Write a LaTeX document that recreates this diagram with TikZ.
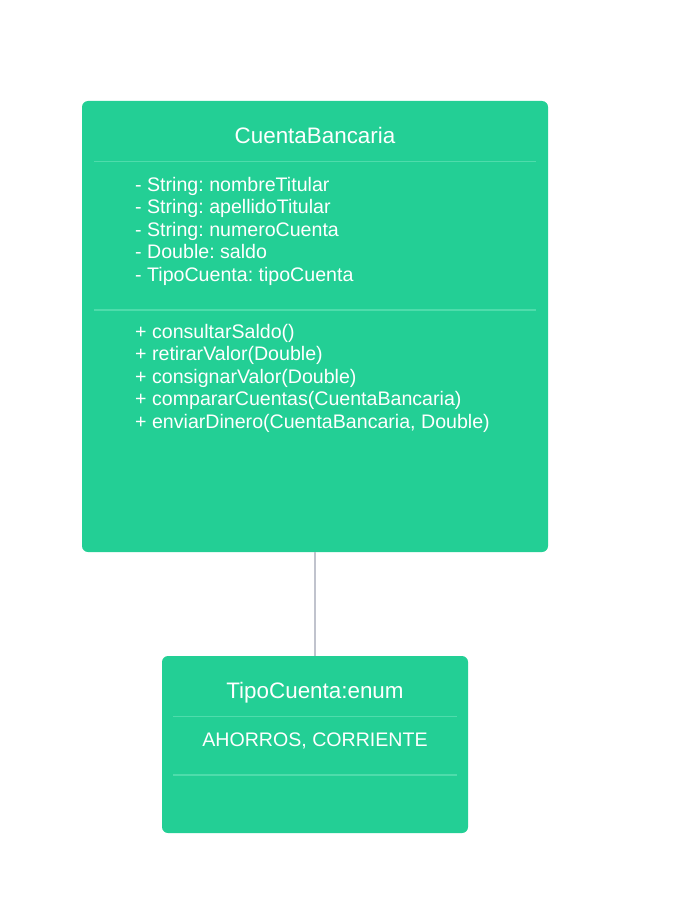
\documentclass[tikz,border=0pt]{standalone}
\usepackage{fontspec}
\setmainfont{Liberation Sans}
\frenchspacing
\definecolor{boxgreen}{RGB}{35,207,149}
\definecolor{divgreen}{RGB}{78,220,171}
\definecolor{linkgray}{RGB}{192,195,205}
\tikzset{
  classbox/.style={fill=boxgreen, draw=none, rounded corners=6pt, inner sep=0pt},
  divider/.style={draw=divgreen, line width=1.2pt},
  titletext/.style={text=white, font=\fontsize{22.4}{26}\selectfont, inner sep=0pt, anchor=base},
  bodytext/.style={text=white, font=\fontsize{19.6}{22.5}\selectfont, inner sep=0pt, anchor=base west},
  centertext/.style={text=white, font=\fontsize{19.6}{22.5}\selectfont, inner sep=0pt, anchor=base},
  link/.style={draw=linkgray, line width=2.5pt}
}
\begin{document}
\begin{tikzpicture}[x=1pt,y=-1pt]
\useasboundingbox (0,0) rectangle (678,915);
% main class
\node[classbox, minimum width=466pt, minimum height=451pt] (cb) at (315,326.5) {};
\node[titletext] (cbt) at (315,143) {CuentaBancaria};
\coordinate (d1l) at (94,161.5); \coordinate (d1r) at (536,161.5);
\draw[divider] (d1l) -- (d1r);
\node[bodytext] (a1) at (135,191) {- String: nombreTitular};
\node[bodytext] (a2) at (135,213.5) {- String: apellidoTitular};
\node[bodytext] (a3) at (135,236) {- String: numeroCuenta};
\node[bodytext] (a4) at (135,258.5) {- Double: saldo};
\node[bodytext] (a5) at (135,281) {- TipoCuenta: tipoCuenta};
\coordinate (d2l) at (94,310); \coordinate (d2r) at (536,310);
\draw[divider] (d2l) -- (d2r);
\node[bodytext] (m1) at (135,338) {+ consultarSaldo()};
\node[bodytext] (m2) at (135,360.5) {+ retirarValor(Double)};
\node[bodytext] (m3) at (135,383) {+ consignarValor(Double)};
\node[bodytext] (m4) at (135,405.5) {+ compararCuentas(CuentaBancaria)};
\node[bodytext] (m5) at (135,428) {+ enviarDinero(CuentaBancaria, Double)};
% enum class
\node[classbox, minimum width=306pt, minimum height=177pt] (tc) at (315,744.5) {};
\node[titletext] (tct) at (315,698) {TipoCuenta:enum};
\coordinate (d3l) at (173,716.5); \coordinate (d3r) at (457,716.5);
\draw[divider] (d3l) -- (d3r);
\node[centertext] (tcv) at (315,746.5) {AHORROS, CORRIENTE};
\coordinate (d4l) at (173,775); \coordinate (d4r) at (457,775);
\draw[divider] (d4l) -- (d4r);
% connector
\draw[link] (cb.south) -- (tc.north);
\end{tikzpicture}
\end{document}
